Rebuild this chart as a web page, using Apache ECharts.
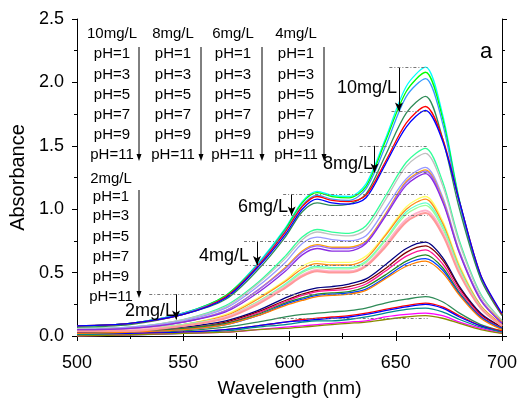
<!DOCTYPE html>
<html>
<head>
<meta charset="utf-8">
<script src="https://cdn.jsdelivr.net/npm/echarts@6/dist/echarts.min.js"></script>
<style>
  html, body { margin: 0; padding: 0; background: #fff; }
  #chart { width: 521px; height: 398px; }
</style>
</head>
<body>
<div id="chart"></div>
<script>
// wavelengths (nm) shared by every spectrum
const wavelengths = [500, 525, 550, 570, 585, 598, 606, 613, 620, 628, 636, 645, 655, 664, 672, 680, 690, 700];

// 10 mg/L
const c10_a = [0.08, 0.10, 0.18, 0.32, 0.57, 0.85, 1.06, 1.14, 1.11, 1.10, 1.20, 1.55, 1.97, 2.12, 1.75, 1.07, 0.47, 0.17];
const c10_b = [0.08, 0.10, 0.18, 0.32, 0.56, 0.84, 1.05, 1.13, 1.10, 1.09, 1.18, 1.53, 1.93, 2.08, 1.72, 1.06, 0.46, 0.17];
const c10_c = [0.08, 0.10, 0.18, 0.31, 0.56, 0.83, 1.03, 1.11, 1.08, 1.07, 1.16, 1.49, 1.89, 2.03, 1.68, 1.04, 0.46, 0.17];
const c10_d = [0.07, 0.09, 0.17, 0.29, 0.52, 0.78, 0.98, 1.05, 1.03, 1.04, 1.12, 1.42, 1.76, 1.89, 1.56, 1.00, 0.45, 0.16];
const c10_e = [0.08, 0.10, 0.17, 0.31, 0.55, 0.82, 1.02, 1.10, 1.07, 1.06, 1.11, 1.37, 1.68, 1.81, 1.56, 1.06, 0.48, 0.17];
const c10_f = [0.08, 0.10, 0.17, 0.30, 0.54, 0.80, 1.00, 1.08, 1.05, 1.04, 1.09, 1.35, 1.65, 1.78, 1.54, 1.06, 0.48, 0.18];
// 8 mg/L
const c8_a = [0.06, 0.07, 0.13, 0.24, 0.42, 0.63, 0.78, 0.84, 0.82, 0.81, 0.87, 1.10, 1.37, 1.48, 1.22, 0.75, 0.33, 0.12];
const c8_b = [0.06, 0.07, 0.13, 0.23, 0.41, 0.61, 0.76, 0.82, 0.80, 0.79, 0.84, 1.07, 1.34, 1.44, 1.19, 0.73, 0.32, 0.12];
const c8_c = [0.05, 0.07, 0.12, 0.22, 0.39, 0.58, 0.73, 0.78, 0.76, 0.75, 0.79, 1.00, 1.24, 1.33, 1.10, 0.67, 0.29, 0.11];
const c8_d = [0.05, 0.06, 0.11, 0.20, 0.36, 0.54, 0.67, 0.72, 0.70, 0.70, 0.75, 0.96, 1.22, 1.31, 1.08, 0.66, 0.29, 0.11];
const c8_e = [0.05, 0.06, 0.11, 0.20, 0.36, 0.53, 0.66, 0.71, 0.69, 0.69, 0.74, 0.95, 1.21, 1.30, 1.07, 0.66, 0.29, 0.10];
const c8_f = [0.05, 0.06, 0.11, 0.19, 0.34, 0.51, 0.64, 0.69, 0.67, 0.67, 0.73, 0.94, 1.19, 1.28, 1.06, 0.65, 0.28, 0.10];
// 6 mg/L
const c6_a = [0.04, 0.05, 0.09, 0.17, 0.30, 0.44, 0.55, 0.59, 0.58, 0.58, 0.63, 0.80, 1.02, 1.10, 0.91, 0.56, 0.24, 0.09];
const c6_b = [0.04, 0.05, 0.09, 0.16, 0.29, 0.43, 0.53, 0.57, 0.56, 0.56, 0.61, 0.79, 1.00, 1.08, 0.89, 0.54, 0.24, 0.09];
const c6_c = [0.04, 0.05, 0.09, 0.15, 0.27, 0.41, 0.51, 0.55, 0.54, 0.54, 0.59, 0.76, 0.98, 1.05, 0.87, 0.53, 0.23, 0.08];
const c6_d = [0.04, 0.05, 0.09, 0.15, 0.27, 0.40, 0.50, 0.54, 0.53, 0.53, 0.58, 0.75, 0.96, 1.03, 0.85, 0.52, 0.23, 0.08];
const c6_e = [0.04, 0.05, 0.08, 0.15, 0.26, 0.39, 0.48, 0.52, 0.51, 0.51, 0.56, 0.72, 0.92, 0.99, 0.82, 0.50, 0.22, 0.08];
const c6_f = [0.04, 0.04, 0.08, 0.14, 0.25, 0.38, 0.47, 0.51, 0.50, 0.50, 0.55, 0.70, 0.90, 0.97, 0.80, 0.49, 0.22, 0.08];
// 4 mg/L
const c4_a = [0.03, 0.04, 0.07, 0.12, 0.20, 0.30, 0.35, 0.38, 0.39, 0.41, 0.45, 0.56, 0.69, 0.74, 0.62, 0.39, 0.18, 0.07];
const c4_b = [0.03, 0.04, 0.06, 0.11, 0.19, 0.28, 0.33, 0.36, 0.37, 0.39, 0.43, 0.53, 0.66, 0.71, 0.60, 0.38, 0.17, 0.07];
const c4_c = [0.03, 0.03, 0.06, 0.10, 0.18, 0.27, 0.32, 0.35, 0.36, 0.37, 0.41, 0.51, 0.63, 0.68, 0.57, 0.36, 0.16, 0.06];
const c4_d = [0.02, 0.03, 0.06, 0.10, 0.17, 0.26, 0.30, 0.33, 0.34, 0.35, 0.39, 0.48, 0.59, 0.64, 0.54, 0.34, 0.15, 0.06];
const c4_e = [0.02, 0.03, 0.05, 0.09, 0.16, 0.25, 0.29, 0.32, 0.33, 0.34, 0.37, 0.46, 0.57, 0.61, 0.52, 0.33, 0.15, 0.06];
const c4_f = [0.02, 0.03, 0.05, 0.09, 0.16, 0.24, 0.28, 0.31, 0.32, 0.33, 0.36, 0.45, 0.55, 0.59, 0.50, 0.32, 0.14, 0.05];
// 2 mg/L
const c2_a = [0.01, 0.02, 0.04, 0.07, 0.11, 0.15, 0.17, 0.18, 0.19, 0.20, 0.22, 0.26, 0.29, 0.31, 0.27, 0.18, 0.09, 0.04];
const c2_b = [0.01, 0.02, 0.03, 0.05, 0.08, 0.11, 0.13, 0.14, 0.15, 0.16, 0.18, 0.21, 0.24, 0.26, 0.23, 0.16, 0.08, 0.04];
const c2_c = [0.01, 0.02, 0.03, 0.05, 0.08, 0.11, 0.12, 0.13, 0.14, 0.15, 0.17, 0.20, 0.23, 0.25, 0.22, 0.15, 0.08, 0.03];
const c2_d = [0.01, 0.01, 0.02, 0.04, 0.07, 0.09, 0.11, 0.12, 0.12, 0.13, 0.15, 0.18, 0.21, 0.22, 0.19, 0.13, 0.07, 0.03];
const c2_e = [0.00, 0.01, 0.02, 0.03, 0.05, 0.07, 0.08, 0.09, 0.10, 0.11, 0.12, 0.15, 0.17, 0.18, 0.16, 0.11, 0.06, 0.02];
const c2_f = [0.00, 0.01, 0.02, 0.03, 0.05, 0.06, 0.07, 0.08, 0.09, 0.10, 0.11, 0.13, 0.15, 0.16, 0.14, 0.10, 0.05, 0.02];

const spectra = [
  c2_a, c2_b, c2_c, c2_d, c2_e, c2_f,
  c4_a, c4_b, c4_c, c4_d, c4_e, c4_f,
  c6_a, c6_b, c6_c, c6_d, c6_e, c6_f,
  c8_a, c8_b, c8_c, c8_d, c8_e, c8_f,
  c10_a, c10_b, c10_c, c10_d, c10_e, c10_f
];
const colors = [
  '#2e8b57', '#ff0000', '#0000ff', '#008b8b', '#ff00ff', '#8b8b00',
  '#000080', '#800000', '#ff1493', '#228b22', '#0040ff', '#ff8000',
  '#ffff66', '#ff8c1a', '#66ffcc', '#99ff99', '#ffb3cc', '#ff9999',
  '#33ff99', '#c0c0c0', '#9999ff', '#ffa500', '#9966ff', '#8a2be2',
  '#00ffff', '#00ff00', '#3399ff', '#2e8b57', '#ff0000', '#0000ff'
];

// peak-range annotations: label, arrow wavelength, top, bottom, dashed starts
const annoLabels = ['10mg/L', '8mg/L', '6mg/L', '4mg/L', '2mg/L'];
const annoArrowX = [651.5, 640, 601, 584.7, 546.6];
const annoTop = [2.12, 1.50, 1.12, 0.75, 0.33];
const annoBottom = [1.77, 1.29, 0.95, 0.56, 0.13];
const annoDashTopFrom = [647, 633, 597, 578.6, 534];
const annoDashBottomFrom = [648, 633, 597, 579, 593];
const annoDashBottomY = [1.77, 1.29, 0.95, 0.56, 0.14];
const annoLabelPos = [[397, 88], [373, 164], [288, 207], [249, 256], [175, 311]];

const legendCols = ['10mg/L', '8mg/L', '6mg/L', '4mg/L'];
const phLabels = ['pH=1', 'pH=3', 'pH=5', 'pH=7', 'pH=9', 'pH=11'];

const font = '"Liberation Sans", Arial, sans-serif';
const chart = echarts.init(document.getElementById('chart'), null, { renderer: 'canvas' });

const series = spectra.map((s, i) => ({
  type: 'line',
  data: wavelengths.map((w, j) => [w, s[j]]),
  showSymbol: false,
  smooth: 0.3,
  lineStyle: { width: i >= 16 && i <= 17 ? 2 : 1.3, color: colors[i] },
  itemStyle: { color: colors[i] },
  animation: false,
  silent: true,
  z: 2
}));

const markData = [];
annoLabels.forEach((lab, i) => {
  markData.push([
    { coord: [annoArrowX[i], annoTop[i]], symbol: 'none' },
    { coord: [annoArrowX[i], annoBottom[i]], symbol: 'arrow', symbolSize: [6, 9] }
  ]);
  markData.push([
    { coord: [annoDashTopFrom[i], annoTop[i]], symbol: 'none', lineStyle: { type: [3, 2, 1, 2], color: '#777' } },
    { coord: [665, annoTop[i]], symbol: 'none' }
  ]);
  markData.push([
    { coord: [annoDashBottomFrom[i], annoDashBottomY[i]], symbol: 'none', lineStyle: { type: [3, 2, 1, 2], color: '#777' } },
    { coord: [665, annoDashBottomY[i]], symbol: 'none' }
  ]);
});
series.push({
  type: 'line',
  data: [],
  silent: true,
  animation: false,
  markLine: {
    silent: true,
    animation: false,
    symbol: ['none', 'none'],
    label: { show: false },
    lineStyle: { color: '#000', width: 1, type: 'solid' },
    data: markData
  },
  z: 5
});

const graphics = [];
function txt(x, y, text, size, align) {
  graphics.push({
    type: 'text', x: x, y: y, z: 20,
    style: { text: text, font: size + 'px ' + font, fill: '#000', align: align || 'center', verticalAlign: 'middle' }
  });
}
function arrow(x, y1, y2) {
  graphics.push({ type: 'line', z: 20, shape: { x1: x, y1: y1, x2: x, y2: y2 - 5 }, style: { stroke: '#000', lineWidth: 1 } });
  graphics.push({ type: 'polygon', z: 20, shape: { points: [[x - 2.5, y2 - 7], [x + 2.5, y2 - 7], [x, y2]] }, style: { fill: '#000' } });
}
const colX = [112, 173, 233, 296];
const arrowX = [139, 201, 262, 324];
const rowY = [54, 75, 95, 115, 135, 155];
legendCols.forEach((c, i) => {
  txt(colX[i], 34, c, 15);
  phLabels.forEach((p, j) => txt(colX[i], rowY[j], p, 15));
  arrow(arrowX[i], 47, 161);
});
txt(111, 179, '2mg/L', 15);
const rowY2 = [197, 216, 237, 257, 277, 297];
phLabels.forEach((p, j) => txt(111, rowY2[j], p, 15));
arrow(139, 190, 298);
annoLabels.forEach((lab, i) => txt(annoLabelPos[i][0], annoLabelPos[i][1], lab, 18, 'right'));
txt(486, 52, 'a', 22);

const axisCommon = {
  type: 'value',
  axisLine: { show: true, lineStyle: { color: '#000', width: 1 } },
  axisTick: { show: true, inside: false, length: 5, lineStyle: { color: '#000' } },
  minorTick: { show: true, splitNumber: 2, length: 3, lineStyle: { color: '#000' } },
  splitLine: { show: false },
  minorSplitLine: { show: false }
};

chart.setOption({
  backgroundColor: '#fff',
  animation: false,
  grid: { left: 77, right: 19, top: 19, bottom: 62, outerBoundsMode: 'none', containLabel: false },
  xAxis: [
    Object.assign({}, axisCommon, {
      min: 500, max: 700, interval: 50, position: 'bottom',
      axisLabel: { fontSize: 18, fontFamily: font, color: '#000', margin: 18 },
      name: 'Wavelength (nm)', nameLocation: 'middle', nameGap: 43,
      nameTextStyle: { fontSize: 19, fontFamily: font, color: '#000' }
    }),
    Object.assign({}, axisCommon, {
      min: 500, max: 700, interval: 50, position: 'top',
      axisLabel: { show: false }
    })
  ],
  yAxis: [
    Object.assign({}, axisCommon, {
      min: 0, max: 2.5, interval: 0.5, position: 'left',
      axisLabel: { fontSize: 18, fontFamily: font, color: '#000', margin: 13, formatter: v => v.toFixed(1) },
      name: 'Absorbance', nameLocation: 'middle', nameGap: 35,
      nameTextStyle: { fontSize: 20, fontFamily: font, color: '#000' }
    }),
    Object.assign({}, axisCommon, {
      min: 0, max: 2.5, interval: 0.5, position: 'right',
      axisLabel: { show: false }
    })
  ],
  series: series,
  graphic: graphics
});
</script>
</body>
</html>
